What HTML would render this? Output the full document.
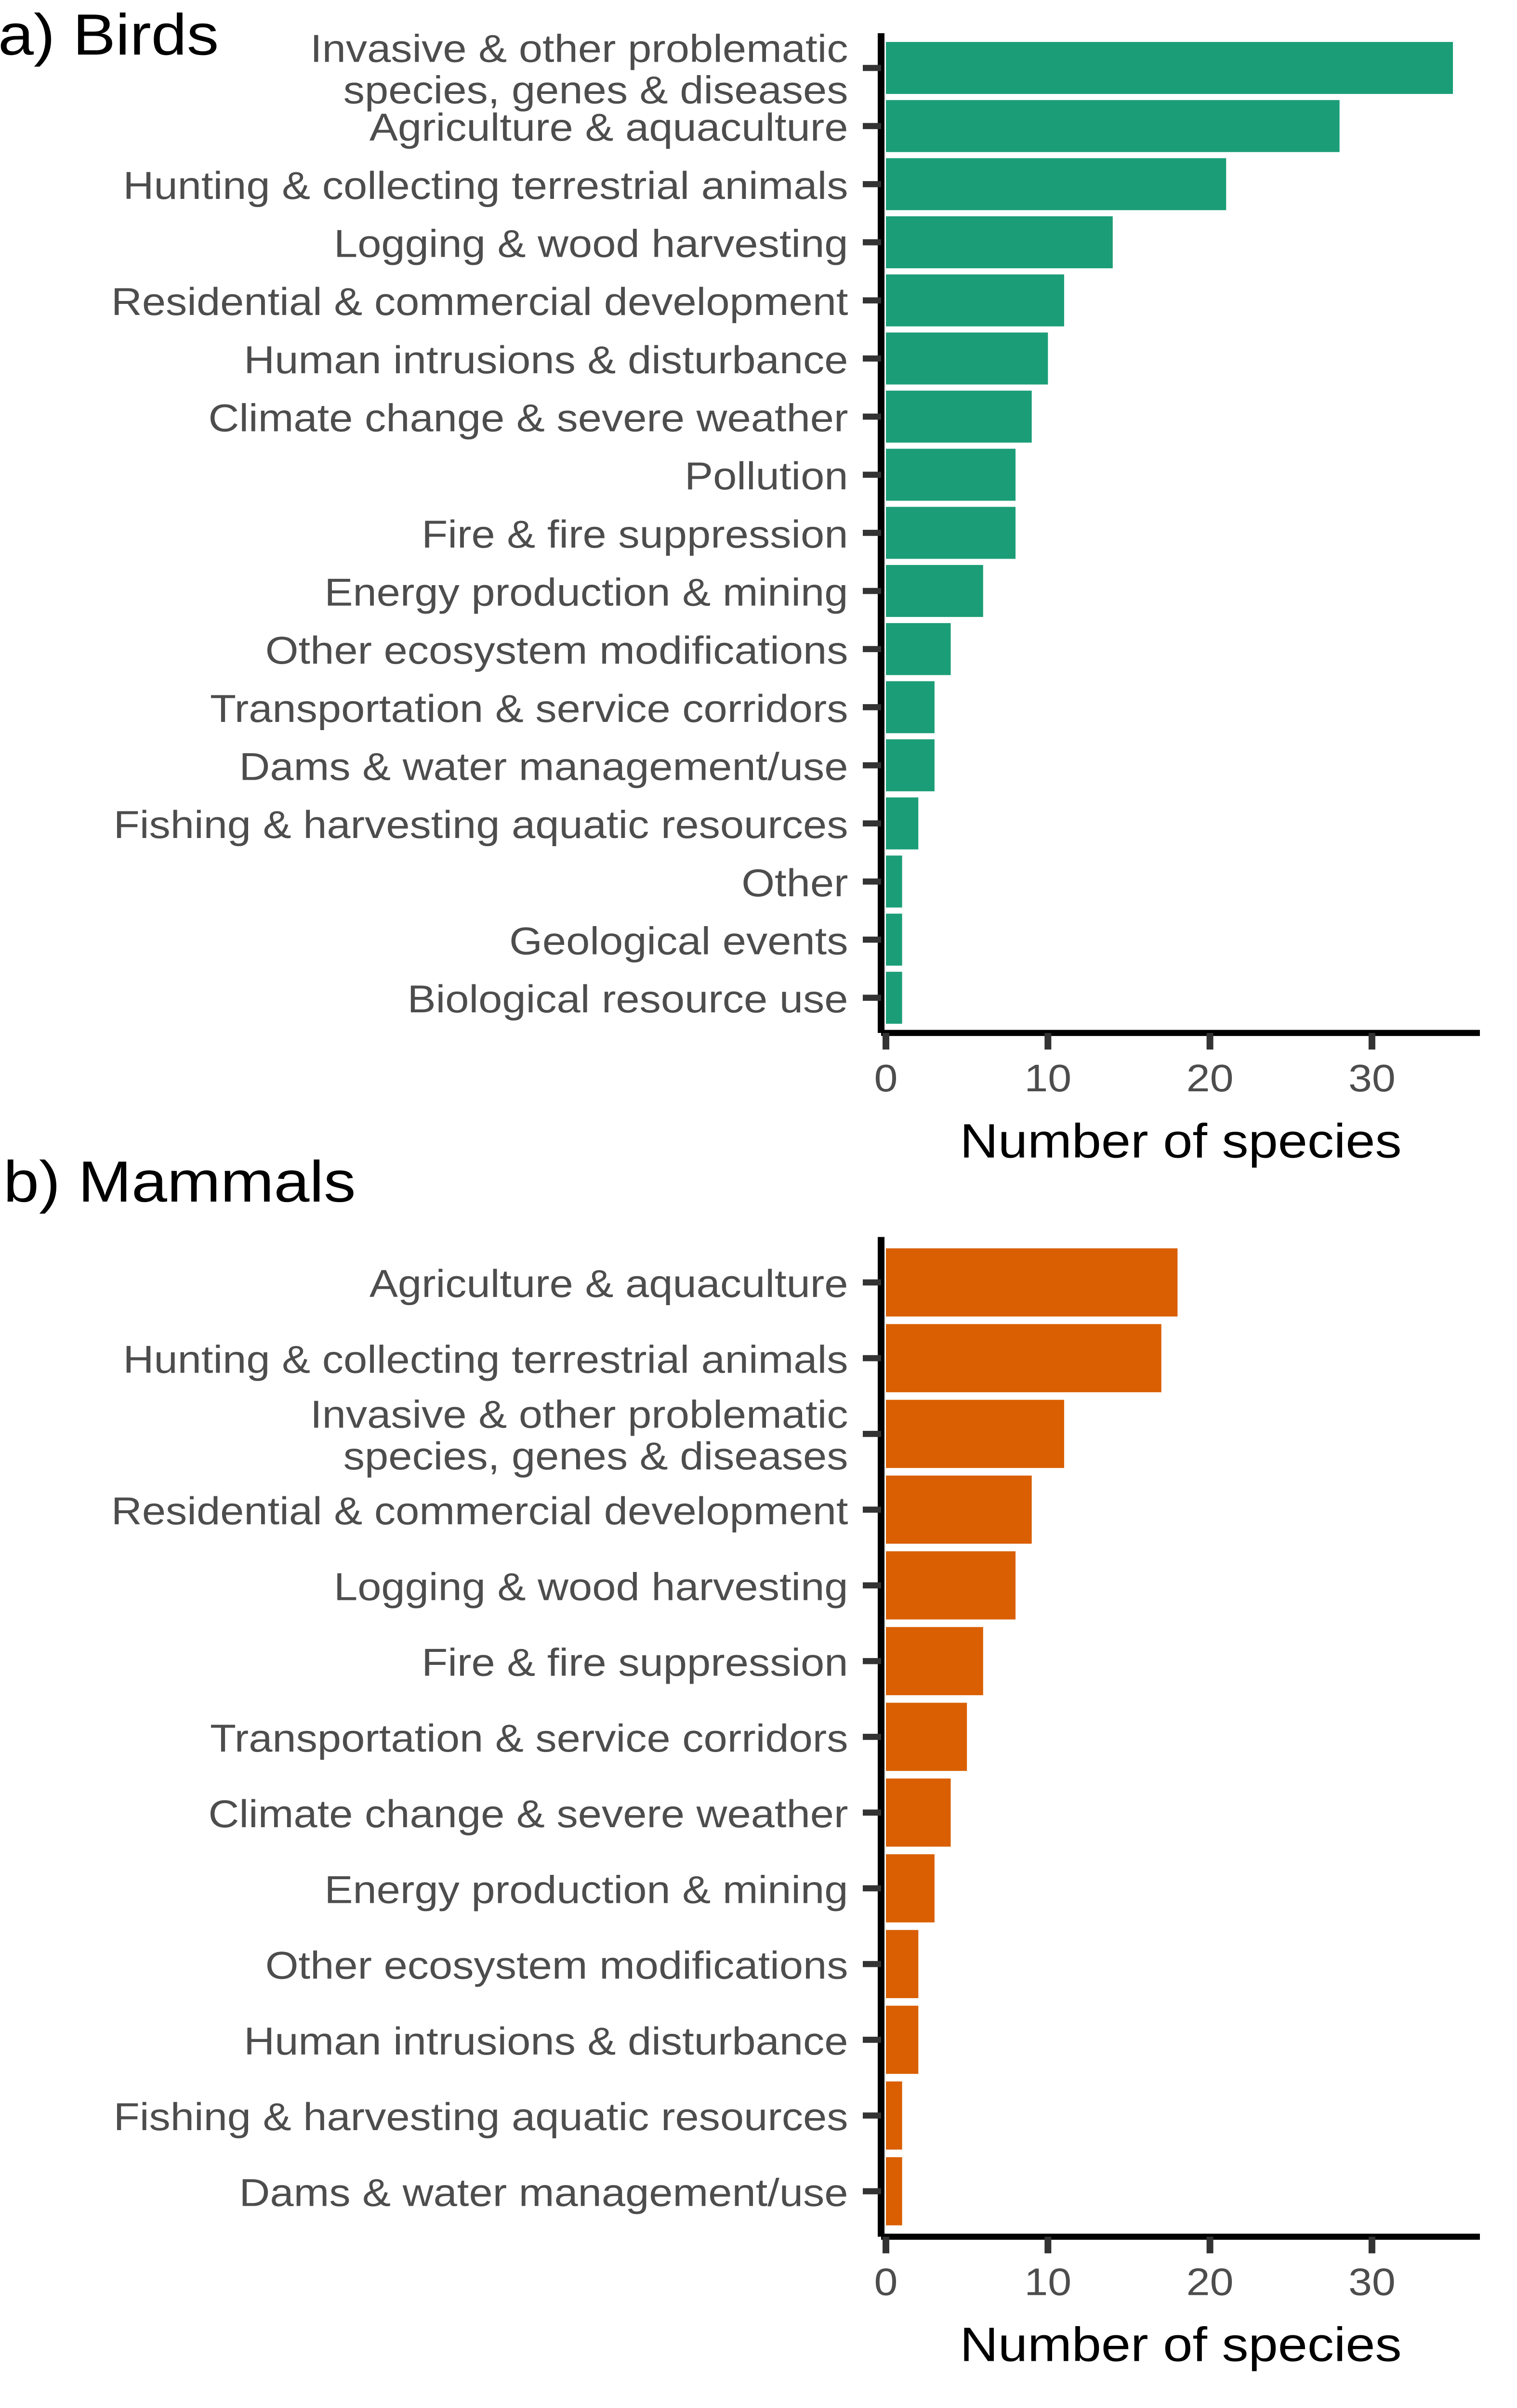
<!DOCTYPE html>
<html lang="en">
<head>
<meta charset="utf-8">
<title>Threats to birds and mammals</title>
<style>
html,body{margin:0;padding:0;background:#fff;width:100%;height:100%;overflow:hidden;}
svg{display:block;width:100vw;height:100vh;}
text{font-family:"Liberation Sans",Arial,sans-serif;}
</style>
</head>
<body>
<svg id="chart" xmlns="http://www.w3.org/2000/svg" viewBox="0 0 3149 5511" preserveAspectRatio="none"></svg>
<script>
const birdCategories = [
  "Invasive & other problematic\nspecies, genes & diseases",
  "Agriculture & aquaculture",
  "Hunting & collecting terrestrial animals",
  "Logging & wood harvesting",
  "Residential & commercial development",
  "Human intrusions & disturbance",
  "Climate change & severe weather",
  "Pollution",
  "Fire & fire suppression",
  "Energy production & mining",
  "Other ecosystem modifications",
  "Transportation & service corridors",
  "Dams & water management/use",
  "Fishing & harvesting aquatic resources",
  "Other",
  "Geological events",
  "Biological resource use"
];
const birdValues = [35, 28, 21, 14, 11, 10, 9, 8, 8, 6, 4, 3, 3, 2, 1, 1, 1];
const mammalCategories = [
  "Agriculture & aquaculture",
  "Hunting & collecting terrestrial animals",
  "Invasive & other problematic\nspecies, genes & diseases",
  "Residential & commercial development",
  "Logging & wood harvesting",
  "Fire & fire suppression",
  "Transportation & service corridors",
  "Climate change & severe weather",
  "Energy production & mining",
  "Other ecosystem modifications",
  "Human intrusions & disturbance",
  "Fishing & harvesting aquatic resources",
  "Dams & water management/use"
];
const mammalValues = [18, 17, 11, 9, 8, 6, 5, 4, 3, 2, 2, 1, 1];
const xTickValues = [0, 10, 20, 30];

const svg = document.getElementById('chart');
const NS = 'http://www.w3.org/2000/svg';
function make(tag, attrs, text) {
  const el = document.createElementNS(NS, tag);
  for (const k in attrs) el.setAttribute(k, attrs[k]);
  if (text !== undefined) el.textContent = text;
  svg.appendChild(el);
  return el;
}
const xZero = 1839;
const xPerUnit = 33.63;
function xScale(v) { return xZero + v * xPerUnit; }

function slug(s) {
  return s.toLowerCase().replace(/[^a-z0-9]+/g, '-').replace(/^-|-$/g, '');
}

function drawPanel(p) {
  const title = make('text', {x: p.titleX, y: p.titleY, 'font-size': 133, fill: '#000'}, p.title);
  
  

  const yCenter = i => p.firstCenter + i * p.step;

  p.values.forEach((v, i) => {
    const bar = make('rect', {
      x: xScale(0), y: yCenter(i) - p.barHeight / 2,
      width: xScale(v) - xScale(0), height: p.barHeight, fill: p.color
    });
    
    
  });

  const yAxis = make('rect', {x: 1822, y: p.axisTop, width: 14, height: p.axisY - p.axisTop, fill: '#000'});
  
  
  const xAxis = make('rect', {x: 1829, y: p.axisY - 7, width: 1243, height: 14, fill: '#000'});
  
  

  p.categories.forEach((c, i) => {
    const cy = yCenter(i);
    const tick = make('rect', {x: 1791, y: cy - 7, width: 38, height: 14, fill: '#333333'});
    
    
    const lines = c.split('\n');
    if (lines.length === 1) {
      const t = make('text', {x: 1760.5, y: cy + 33.5, 'font-size': 88.5, fill: '#4d4d4d', 'text-anchor': 'end'}, lines[0]);
      
      
    } else {
      const t1 = make('text', {x: 1760.5, y: cy - 14, 'font-size': 88.5, fill: '#4d4d4d', 'text-anchor': 'end'}, lines[0]);
      
      
      const t2 = make('text', {x: 1760.5, y: cy + 81, 'font-size': 88.5, fill: '#4d4d4d', 'text-anchor': 'end'}, lines[1]);
      
      
    }
  });

  xTickValues.forEach(v => {
    const tick = make('rect', {x: xScale(v) - 7, y: p.axisY, width: 14, height: 38, fill: '#333333'});
    
    
    const t = make('text', {x: xScale(v), y: p.axisY + 133.5, 'font-size': 88, fill: '#4d4d4d', 'text-anchor': 'middle'}, String(v));
    
    
  });

  const xt = make('text', {x: 2451, y: p.xTitleY, 'font-size': 110, fill: '#000', 'text-anchor': 'middle'}, 'Number of species');
  
  
}

drawPanel({
  key: 'birds', title: 'a) Birds', titleX: -4, titleY: 125,
  categories: birdCategories, values: birdValues, color: '#1B9E77',
  firstCenter: 155.5, step: 133, barHeight: 119,
  axisTop: 76, axisY: 2364, xTitleY: 2649
});
drawPanel({
  key: 'mammals', title: 'b) Mammals', titleX: 7, titleY: 2750,
  categories: mammalCategories, values: mammalValues, color: '#D95F02',
  firstCenter: 2935, step: 173.33, barHeight: 156,
  axisTop: 2831, axisY: 5119, xTitleY: 5403.5
});
</script>
</body>
</html>
